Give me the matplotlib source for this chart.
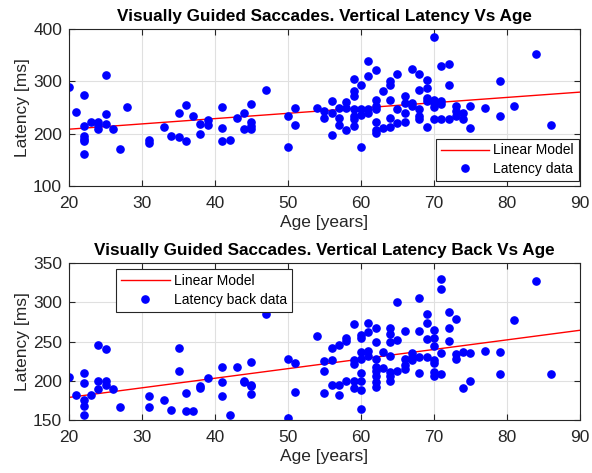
import numpy as np
import matplotlib
matplotlib.use('Agg')
import matplotlib.pyplot as plt

plt.rcParams['font.family'] = ['Liberation Sans', 'DejaVu Sans']

# Vertical latency vs age (top panel)
age_top = [20, 21, 22, 22, 22, 22, 22, 22, 23, 24, 24, 24, 25, 25, 25, 26, 27, 28,
           31, 31, 33, 34, 35, 35, 36, 36, 37, 38, 38, 39, 39, 41, 41, 41, 42, 43,
           44, 44, 45, 45, 45, 45, 47, 50, 50, 51, 51, 54, 55, 55, 56, 56, 56,
           57, 57, 57, 58, 58, 58, 59, 59, 59, 59, 59, 59, 59, 60, 60, 60, 60,
           61, 61, 61, 61, 62, 62, 62, 62, 62, 62, 62, 63, 63, 64, 64, 64, 64, 64,
           65, 65, 65, 66, 66, 66, 66, 67, 67, 67, 68, 68, 68, 68, 68,
           69, 69, 69, 69, 69, 70, 70, 70, 70, 70, 71, 71, 71, 71, 72, 72, 72,
           73, 73, 73, 74, 74, 75, 75, 77, 79, 79, 81, 84, 86]
lat_top = [289, 241, 273, 215, 196, 189, 185, 161, 222, 223, 217, 209, 312, 238, 219, 209, 171, 251,
           188, 182, 212, 195, 240, 194, 255, 185, 233, 219, 200, 226, 216, 251, 210, 186, 187, 230,
           239, 209, 257, 222, 215, 209, 284, 233, 175, 248, 216, 249, 244, 230, 262, 239, 198,
           249, 229, 217, 260, 249, 207, 304, 281, 272, 246, 233, 227, 215, 292, 246, 236, 174,
           339, 309, 246, 240, 322, 265, 252, 247, 223, 206, 201, 281, 211, 301, 292, 265, 230, 213,
           313, 246, 220, 271, 259, 240, 223, 323, 258, 253, 314, 284, 246, 233, 228,
           303, 287, 268, 263, 213, 384, 265, 258, 251, 227, 329, 263, 257, 227, 333, 293, 227,
           253, 244, 233, 240, 227, 253, 211, 248, 300, 234, 253, 352, 216]

# Vertical latency back vs age (bottom panel)
age_bot = [20, 21, 22, 22, 22, 22, 22, 23, 24, 24, 24, 25, 25, 25, 26, 27,
           31, 31, 33, 34, 35, 35, 36, 36, 37, 38, 38, 39, 41, 41, 41, 42, 43,
           44, 44, 45, 45, 45, 45, 47, 50, 50, 51, 51, 54, 55, 55, 55, 56, 56, 56,
           57, 57, 57, 58, 58, 58, 59, 59, 59, 59, 59, 60, 60, 60, 60, 60, 60, 60, 60,
           61, 61, 61, 61, 62, 62, 62, 62, 62, 62, 62, 62, 63, 63,
           64, 64, 64, 64, 64, 64, 64, 65, 65, 65, 66, 66, 66, 66, 67, 67, 67,
           68, 68, 68, 68, 69, 69, 69, 69, 70, 70, 70, 70, 70, 70, 70,
           71, 71, 71, 71, 72, 72, 72, 73, 73, 73, 74, 74, 75, 75, 77, 79, 79, 81, 84, 86]
lat_bot = [205, 182, 210, 197, 176, 168, 156, 182, 245, 200, 189, 240, 200, 195, 190, 167,
           181, 166, 176, 163, 242, 212, 185, 161, 162, 193, 191, 203, 218, 198, 180, 156, 218,
           200, 198, 224, 195, 193, 183, 285, 228, 152, 222, 186, 257, 225, 213, 185, 242, 227, 195,
           246, 195, 182, 255, 251, 200, 272, 227, 221, 200, 191, 258, 254, 237, 228, 210, 200, 188, 164,
           273, 262, 238, 232, 267, 250, 228, 217, 213, 206, 199, 192, 237, 216,
           267, 260, 250, 232, 211, 206, 200, 300, 252, 213, 263, 228, 220, 215, 235, 230, 226,
           305, 264, 230, 210, 285, 274, 253, 230, 265, 255, 244, 226, 222, 211, 206,
           330, 317, 235, 209, 287, 267, 251, 279, 234, 228, 237, 191, 235, 200, 238, 236, 208, 277, 327, 209]


def draw_panel(ax, ages, lats, title, ylim, yticks, data_label, legend_kw):
    ages = np.array(ages)
    lats = np.array(lats)
    slope, intercept = np.polyfit(ages, lats, 1)
    xs = np.array([20, 90])
    ax.plot(xs, intercept + slope * xs, color='red', lw=1, label='Linear Model')
    ax.plot(ages, lats, 'o', color='blue', ms=5.2, label=data_label)
    ax.set_xlim(20, 90)
    ax.set_ylim(*ylim)
    ax.set_xticks(range(20, 91, 10))
    ax.set_yticks(yticks)
    ax.grid(True, color='#e0e0e0', lw=0.8)
    ax.set_axisbelow(True)
    ax.tick_params(direction='in', top=True, right=True, labelsize=12.5,
                   colors='#262626', length=4)
    ax.tick_params(axis='x', pad=7)
    ax.tick_params(axis='y', pad=5)
    for s in ax.spines.values():
        s.set_color('#262626')
    ax.set_title(title, fontsize=12.3, fontweight='bold', pad=6)
    ax.set_xlabel('Age [years]', fontsize=12.5, color='#262626', labelpad=3)
    ax.set_ylabel('Latency [ms]', fontsize=12.5, color='#262626', labelpad=2)
    leg = ax.legend(fontsize=10, fancybox=False, framealpha=1, edgecolor='#262626',
                    borderpad=0.35, handlelength=3.5, handletextpad=0.3,
                    labelspacing=0.35, borderaxespad=0, **legend_kw)
    leg.get_frame().set_linewidth(0.8)


fig = plt.figure(figsize=(5.92, 4.73), dpi=100)
ax1 = fig.add_axes([0.1166, 0.607, 0.863, 0.332])
ax2 = fig.add_axes([0.1166, 0.112, 0.863, 0.332])

draw_panel(ax1, age_top, lat_top, 'Visually Guided Saccades. Vertical Latency Vs Age',
           (100, 400), [100, 200, 300, 400], 'Latency data',
           dict(loc='lower right', bbox_to_anchor=(0.998, 0.03)))
draw_panel(ax2, age_bot, lat_bot, 'Visually Guided Saccades. Vertical Latency Back Vs Age',
           (150, 350), [150, 200, 250, 300, 350], 'Latency back data',
           dict(loc='upper left', bbox_to_anchor=(0.092, 0.962)))

fig.savefig('out.png', dpi=100)
